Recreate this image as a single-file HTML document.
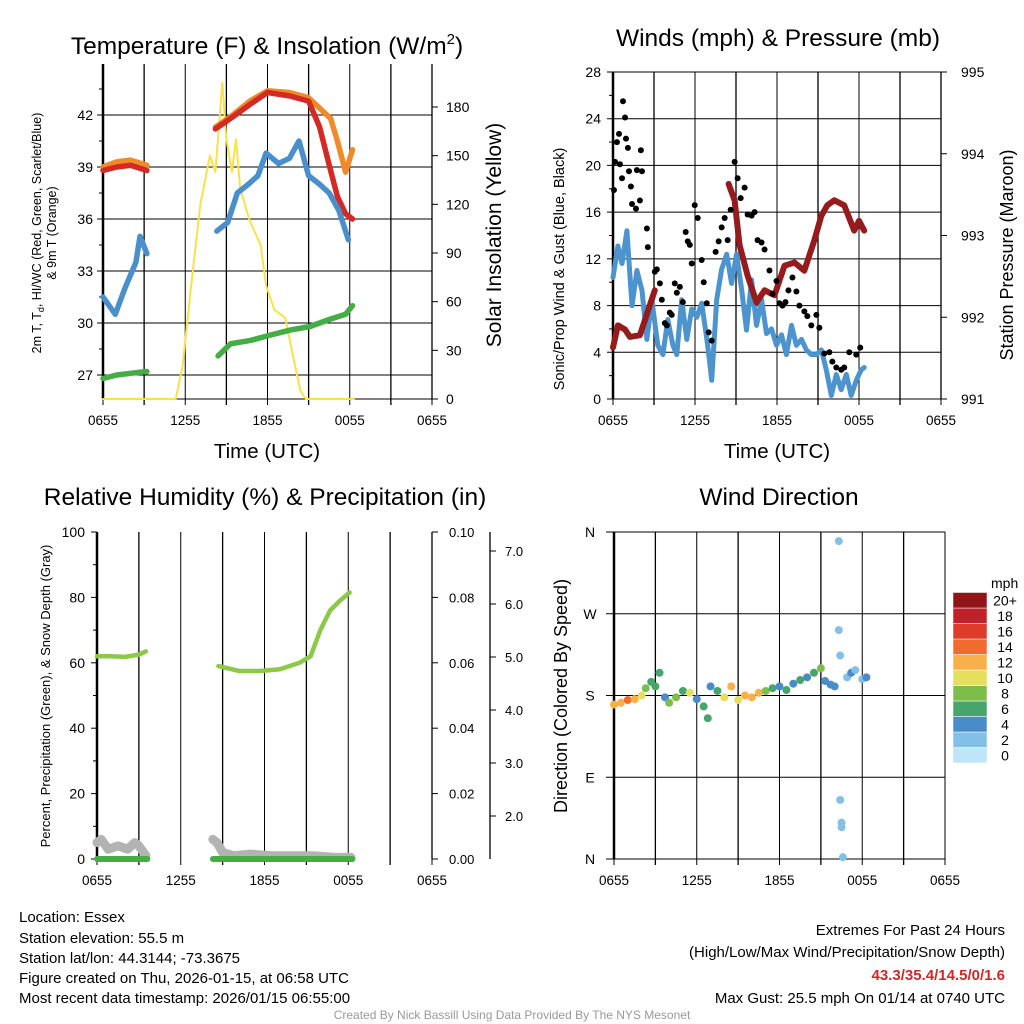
<!DOCTYPE html>
<html><head><meta charset="utf-8"><style>
body{margin:0;background:#fff;}
svg{display:block;font-family:"Liberation Sans",Arial,sans-serif;}
</style></head><body>
<svg id="c" width="1024" height="1024" viewBox="0 0 1024 1024" xmlns="http://www.w3.org/2000/svg">
<rect width="1024" height="1024" fill="#fff"/>
<g id="g1"></g>
<g id="g2"></g>
<g id="g3"></g>
<g id="g4"></g>
<g id="txt" font-size="15" fill="#000">
<text x="19" y="922">Location: Essex</text>
<text x="19" y="943">Station elevation: 55.5 m</text>
<text x="19" y="963">Station lat/lon: 44.3144; -73.3675</text>
<text x="19" y="983">Figure created on Thu, 2026-01-15, at 06:58 UTC</text>
<text x="19" y="1003">Most recent data timestamp: 2026/01/15 06:55:00</text>
<text x="1005" y="935" text-anchor="end">Extremes For Past 24 Hours</text>
<text x="1005" y="957" text-anchor="end">(High/Low/Max Wind/Precipitation/Snow Depth)</text>
<text x="1005" y="980" text-anchor="end" fill="#cc2a2a" font-weight="bold">43.3/35.4/14.5/0/1.6</text>
<text x="1005" y="1003" text-anchor="end">Max Gust: 25.5 mph On 01/14 at 0740 UTC</text>
<text x="512" y="1019" text-anchor="middle" font-size="12" fill="#999">Created By Nick Bassill Using Data Provided By The NYS Mesonet</text>
</g>
</svg>
<script>
// ---------- data ----------
const xTickLabels = ["0655","1255","1855","0055","0655"];
// Temperature panel (hours since 0655)
const redH1 = [0,1,2,3.2], redV1 = [38.8,39.0,39.1,38.8];
const orgV1 = [39.0,39.3,39.4,39.1];
const redH2 = [8.2,9.3,10.7,12.0,13.6,15.0,15.8,16.6,17.1,17.7,18.2];
const redV2 = [41.2,41.8,42.6,43.3,43.1,42.8,41.3,38.8,37.3,36.3,36.0];
const orgV2 = [41.3,41.9,42.8,43.4,43.3,43.0,42.4,41.8,40.5,38.7,40.0];
const blueH1 = [0,0.9,1.6,2.4,2.7,3.2], blueV1 = [31.5,30.5,32,33.5,35,34];
const blueH2 = [8.3,9.1,9.8,10.6,11.3,11.9,12.8,13.6,14.3,15.0,15.8,16.5,17.2,17.9];
const blueV2 = [35.3,35.8,37.5,38,38.5,39.8,39.2,39.5,40.5,38.5,38,37.5,36.5,34.8];
const grnH1 = [0,1,2,3.2], grnV1 = [26.8,27,27.1,27.2];
const grnH2 = [8.4,9.3,10.8,12.2,13.7,15.1,16.5,17.7,18.2], grnV2 = [28.1,28.8,29,29.3,29.6,29.8,30.2,30.5,31];
const solH = [0,5.3,5.8,6.3,7.1,7.8,8.2,8.7,9.0,9.4,9.7,10.0,10.7,11.5,11.9,12.5,13.3,13.9,14.4,14.8,18.3];
const solV = [0,0,20,60,120,150,140,195,160,140,160,130,110,95,70,55,50,25,5,0,0];
const tempTicks = [27,30,33,36,39,42];
const solTicks = [0,30,60,90,120,150,180];
// Wind panel
const sonicH = [0,.36,.66,1.02,1.39,1.75,2.12,2.48,2.84,3.28,3.65,4.01,4.38,4.67,5.03,5.4,5.76,6.13,6.49,6.93,7.22,7.59,7.95,8.32,8.68,9.04,9.41,9.77,10.14,10.5,10.87,11.23,11.6,11.96,12.33,12.69,13.06,13.42,13.79,14.15,14.51,14.88,15.24,15.61,15.97,16.34,16.7,17.07,17.43,17.8,18.16,18.38];
const sonicV = [10.4,13.1,11.6,14.4,8.0,11.0,9.3,5.1,8.5,4.6,3.8,6.8,4.6,3.8,8.5,5.1,7.7,7.0,8.2,4.6,1.6,8.5,11.1,12.4,9.9,12.4,9.4,5.9,10.2,6.3,8.5,5.6,6.0,4.6,5.5,3.8,6.3,4.6,5.1,4.2,3.8,3.8,4.2,2.5,0.3,2.1,0.8,2.1,0.3,1.6,2.5,2.7];
const gustH = [.07,.15,.29,.44,.51,.66,.73,.88,.95,1.09,1.17,1.31,1.39,1.68,1.75,1.97,2.04,2.12,2.48,2.55,3.06,3.21,3.43,3.57,3.79,3.94,4.16,4.3,4.52,4.67,4.89,5.11,5.32,5.47,5.62,5.76,5.98,6.2,6.49,6.64,6.86,7.0,7.22,7.51,7.73,7.95,8.17,8.39,8.61,8.9,9.12,9.34,9.63,9.85,10.14,10.36,10.58,10.87,11.09,11.45,11.67,11.96,12.18,12.4,12.62,12.84,13.13,13.42,13.64,14.0,14.22,14.51,14.88,15.1,15.46,15.83,16.05,16.34,16.7,16.92,17.29,17.8,18.09];
const gustV = [17.9,20.3,22.0,22.7,20.1,18.9,25.5,24.1,22.3,21.5,19.5,18.2,16.7,16.3,19.6,17.0,21.3,19.5,14.6,13.0,10.9,11.1,9.9,8.5,6.5,6.3,7.4,7.2,9.9,9.1,9.6,8.3,14.3,13.5,13.2,11.6,16.6,15.5,11.9,10.0,8.2,5.7,5.0,12.6,13.5,14.7,15.5,13.6,16.2,20.3,18.9,17.2,18.1,15.8,15.7,16.0,13.6,13.4,12.8,11.0,9.0,10.1,8.2,8.0,8.3,9.3,10.4,9.2,8.0,7.5,7.1,6.3,7.2,6.1,3.9,4.0,3.2,2.7,2.5,2.7,4.0,3.8,4.4];
const presH1 = [0,0.36,0.88,1.24,1.97,2.33,2.7,3.06];
const presV1 = [991.63,991.9,991.85,991.76,991.78,991.96,992.15,992.33];
const presH2 = [8.46,8.9,9.26,9.85,10.5,11.09,11.82,12.55,13.28,14.0,14.73,15.24,15.68,16.19,16.92,17.65,18.0,18.38];
const presV2 = [993.63,993.43,992.88,992.51,992.18,992.33,992.27,992.63,992.67,992.57,992.94,993.24,993.37,993.43,993.37,993.06,993.18,993.06];
const windTicks = [0,4,8,12,16,20,24,28];
const presTicks = [991,992,993,994,995];
// Humidity panel
const rhH1 = [0,1,2,3,3.5], rhV1 = [62,62,61.8,62.5,63.5];
const rhH2 = [8.7,10.2,11.7,13.1,14.5,15.3,16.0,16.7,17.4,18.1];
const rhV2 = [59,57.5,57.5,58,60,62,70,76,79,81.5];
const snowH1 = [0,0.3,0.8,1.5,2.2,2.7,3.0,3.5], snowV1 = [5,6,3,4,3,5,4,1];
const snowH2 = [8.3,8.6,9.0,9.8,11,12.5,14,15.5,17,18.2], snowV2 = [6,5,2,1,1.5,1,1,1,0.5,0.5];
const rhTicks = [0,20,40,60,80,100];
const pcpTicks = ["0.00","0.02","0.04","0.06","0.08","0.10"];
const snowTicks = [2,3,4,5,6,7];
// Wind direction panel
const dirH = [0,0.5,1,1.5,2,2.3,2.7,3,3.3,3.7,4,4.5,5,5.5,6,6.5,6.8,7,7.5,8,8.5,9,9.5,10,10.5,11,11.5,12,12.5,13,13.5,14,14.5,15,15.3,15.7,16,16.3,16.3,16.4,16.4,16.5,16.5,16.6,16.9,17.2,17.5,18,18.3];
const dirV = [170,172,175,176,180,188,195,190,205,178,172,178,185,183,176,168,155,190,185,178,190,175,180,178,183,185,188,190,186,193,197,200,205,210,196,192,190,350,252,224,65,40,35,2,200,205,208,198,200];
const dirS = [12,12,13,11,10,8,6,5,6,4,7,8,6,9,4,5,6,4,6,10,11,9,12,12,11,7,6,4,5,4,6,3,6,7,4,3,3,1,1,1,1,2,1,1,2,3,2,2,3];
const cbLabels = ["0","2","4","6","8","10","12","14","16","18","20+"];
const cbColors = ["#bfe6f8","#84bfe6","#4a8cc9","#46a56a","#7dbd4c","#e6df5d","#f8b048","#f26b2e","#df3b2b","#c3212a","#8f1518"];

// ---------- helpers ----------
const NS="http://www.w3.org/2000/svg";
function mk(parent,tag,attrs,txt){const e=document.createElementNS(NS,tag);for(const k in attrs)e.setAttribute(k,attrs[k]);if(txt!==undefined)e.textContent=txt;parent.appendChild(e);return e;}
function pathD(hs,vs,sx,sy){return hs.map((h,i)=>(i?"L":"M")+sx(h).toFixed(1)+","+sy(vs[i]).toFixed(1)).join("");}
function frame(g,x0,x1,y0,y1){
  for(let k=0;k<=8;k++){const x=x0+(x1-x0)*k/8;
    const l=mk(g,"line",{x1:x,x2:x,y1:y0,y2:y1+6,stroke:"#000","stroke-width":k%2?1.3:1});
    
    }
  xTickLabels.forEach((t,i)=>{const e=mk(g,"text",{x:x0+(x1-x0)*i/4,y:y1+26,"text-anchor":"middle","font-size":13.5},t);
    
    });
  mk(g,"line",{x1:x0,x2:x0,y1:y0,y2:y1,stroke:"#000","stroke-width":2.5});
}
function dots(g,hs,vs,sx,sy,r,col,name){hs.forEach((h,i)=>{const c=mk(g,"circle",{cx:sx(h),cy:sy(vs[i]),r:r,fill:typeof col==="function"?col(i):col});
  
  });}
function line(g,hs,vs,sx,sy,col,w,name){const p=mk(g,"path",{d:pathD(hs,vs,sx,sy),fill:"none",stroke:col,"stroke-width":w,"stroke-linejoin":"round","stroke-linecap":"round"});
  
  }

// ---------- panel 1 ----------
(function(){const g=document.getElementById("g1");const x0=103,x1=432,y0=64,y1=399;
 const sx=h=>x0+h*(x1-x0)/24, sy=v=>375-(v-27)*52/3, sy2=v=>399-v*292/180;
 tempTicks.forEach(t=>{const l=mk(g,"line",{x1:x0-6,x2:x1,y1:sy(t),y2:sy(t),stroke:"#000","stroke-width":1});
  
  
  mk(g,"line",{x1:x0-4,x2:x0,y1:sy(t+1.5),y2:sy(t+1.5),stroke:"#000"});
  const e=mk(g,"text",{x:x0-10,y:sy(t)+5,"text-anchor":"end","font-size":14},t);
  
  });
 frame(g,x0,x1,y0,y1);
 mk(g,"line",{x1:x1,x2:x1,y1:y0,y2:y1,stroke:"#000","stroke-width":1.3});
 mk(g,"line",{x1:x0,x2:x1,y1:y1,y2:y1,stroke:"#000","stroke-width":1});
 solTicks.forEach(t=>{mk(g,"line",{x1:x1,x2:x1+6,y1:sy2(t),y2:sy2(t),stroke:"#000"});
  const e=mk(g,"text",{x:x1+14,y:sy2(t)+5,"font-size":14},t);
  
  });
 line(g,solH,solV,sx,sy2,"#f7e24a",2,"insolation-line");
 line(g,redH1,orgV1,sx,sy,"#f08a2a",5.5,"9m-temp-line");line(g,redH2,orgV2,sx,sy,"#f08a2a",5.5,"9m-temp-line");
 line(g,redH1,redV1,sx,sy,"#d42a25",5.5,"2m-temp-line");line(g,redH2,redV2,sx,sy,"#d42a25",5.5,"2m-temp-line");
 line(g,blueH1,blueV1,sx,sy,"#4a8fcc",5.5,"dewpoint-line");line(g,blueH2,blueV2,sx,sy,"#4a8fcc",5.5,"dewpoint-line");
 line(g,grnH1,grnV1,sx,sy,"#45ad45",5.5,"hiwc-line");line(g,grnH2,grnV2,sx,sy,"#45ad45",5.5,"hiwc-line");
 mk(g,"text",{x:267,y:54,"text-anchor":"middle","font-size":24.5,}).innerHTML='Temperature (F) &amp; Insolation (W/m<tspan dy="-10" font-size="15">2</tspan><tspan dy="10">)</tspan>';
 mk(g,"text",{x:267,y:458,"text-anchor":"middle","font-size":20.5,},"Time (UTC)");
 mk(g,"text",{transform:"translate(41,233) rotate(-90)","text-anchor":"middle","font-size":12.5,}).innerHTML='2m T, T<tspan dy="3" font-size="9">d</tspan><tspan dy="-3">, HI/WC (Red, Green, Scarlet/Blue)</tspan>';
 mk(g,"text",{transform:"translate(56,233) rotate(-90)","text-anchor":"middle","font-size":12.5,},"& 9m T (Orange)");
 mk(g,"text",{transform:"translate(501,235) rotate(-90)","text-anchor":"middle","font-size":21,},"Solar Insolation (Yellow)");
})();

// ---------- panel 2 ----------
(function(){const g=document.getElementById("g2");const x0=613,x1=941,y0=72,y1=399;
 const sx=h=>x0+h*(x1-x0)/24, sy=v=>399-v*(y1-y0)/28, sy2=v=>399-(v-991)*(y1-y0)/4;
 windTicks.forEach(t=>{const l=mk(g,"line",{x1:x0-6,x2:x1,y1:sy(t),y2:sy(t),stroke:"#000","stroke-width":1});
  
  
  if(t<28)mk(g,"line",{x1:x0-4,x2:x0,y1:sy(t+2),y2:sy(t+2),stroke:"#000"});
  const e=mk(g,"text",{x:x0-12,y:sy(t)+5,"text-anchor":"end","font-size":14},t);
  
  });
 frame(g,x0,x1,y0,y1);
 mk(g,"line",{x1:x1,x2:x1,y1:y0,y2:y1,stroke:"#000","stroke-width":1.3});
 presTicks.forEach(t=>{mk(g,"line",{x1:x1,x2:x1+6,y1:sy2(t),y2:sy2(t),stroke:"#000"});
  const e=mk(g,"text",{x:x1+20,y:sy2(t)+5,"font-size":14},t);
  
  });
 line(g,sonicH,sonicV,sx,sy,"#4d94cf",5,"sonic-wind-line");
 line(g,presH1,presV1,sx,sy2,"#951b1c",6,"pressure-line");line(g,presH2,presV2,sx,sy2,"#951b1c",6,"pressure-line");
 dots(g,gustH,gustV,sx,sy,3,"#000","gust-point");
 mk(g,"text",{x:778,y:46,"text-anchor":"middle","font-size":24.5,},"Winds (mph) & Pressure (mb)");
 mk(g,"text",{x:777,y:458,"text-anchor":"middle","font-size":20.5,},"Time (UTC)");
 mk(g,"text",{transform:"translate(564,269) rotate(-90)","text-anchor":"middle","font-size":14.5,},"Sonic/Prop Wind & Gust (Blue, Black)");
 mk(g,"text",{transform:"translate(1013,255) rotate(-90)","text-anchor":"middle","font-size":18,},"Station Pressure (Maroon)");
})();

// ---------- panel 3 ----------
(function(){const g=document.getElementById("g3");const x0=97,x1=432,y0=532,y1=859;
 const sx=h=>x0+h*(x1-x0)/24, sy=v=>859-v*(y1-y0)/100, ss=v=>816-(v-2)*53;
 frame(g,x0,x1,y0,y1);
 mk(g,"line",{x1:x1,x2:x1,y1:y0,y2:y1,stroke:"#000","stroke-width":1.3});
 rhTicks.forEach((t,i)=>{mk(g,"line",{x1:x0-6,x2:x0,y1:sy(t),y2:sy(t),stroke:"#000"});
  if(t<100)mk(g,"line",{x1:x0-4,x2:x0,y1:sy(t+10),y2:sy(t+10),stroke:"#000"});
  const e=mk(g,"text",{x:x0-12,y:sy(t)+5,"text-anchor":"end","font-size":14},t);
  
  
  mk(g,"line",{x1:x1,x2:x1+6,y1:sy(t),y2:sy(t),stroke:"#000"});
  const f=mk(g,"text",{x:x1+17,y:sy(t)+5,"font-size":13},pcpTicks[i]);
  
  });
 mk(g,"line",{x1:490,x2:490,y1:532,y2:859,stroke:"#000","stroke-width":1.3,});
 snowTicks.forEach(t=>{mk(g,"line",{x1:490,x2:496,y1:ss(t),y2:ss(t),stroke:"#000"});
  const e=mk(g,"text",{x:505,y:ss(t)+5,"font-size":13},t.toFixed(1));
  
  });
 line(g,snowH1,snowV1,sx,sy,"#b3b3b3",9,"snow-depth-line");line(g,snowH2,snowV2,sx,sy,"#b3b3b3",9,"snow-depth-line");
 line(g,[0,3.6],[0,0],sx,sy,"#45ad45",6,"precip-line");line(g,[8.3,18.3],[0,0],sx,sy,"#45ad45",6,"precip-line");
 line(g,rhH1,rhV1,sx,sy,"#8cc84a",4.5,"rh-line");line(g,rhH2,rhV2,sx,sy,"#8cc84a",4.5,"rh-line");
 mk(g,"text",{x:265,y:505,"text-anchor":"middle","font-size":24.5,},"Relative Humidity (%) & Precipitation (in)");
 mk(g,"text",{transform:"translate(50,696) rotate(-90)","text-anchor":"middle","font-size":13,},"Percent, Precipitation (Green), & Snow Depth (Gray)");
})();

// ---------- panel 4 ----------
(function(){const g=document.getElementById("g4");const x0=614,x1=945,y0=532,y1=859;
 const sx=h=>x0+h*(x1-x0)/24, sy=v=>859-v*(y1-y0)/360;
 ["N","E","S","W","N"].forEach((t,i)=>{const y=sy(i*90);
  const l=mk(g,"line",{x1:x0-8,x2:x1,y1:y,y2:y,stroke:"#000","stroke-width":1});
  
  
  const e=mk(g,"text",{x:x0-24,y:y+5,"text-anchor":"middle","font-size":14},t);
  
  });
 frame(g,x0,x1,y0,y1);
 dots(g,dirH,dirV,sx,sy,4,i=>cbColors[Math.min(10,Math.round(dirS[i]/2))],"direction-point");
 mk(g,"text",{x:779,y:505,"text-anchor":"middle","font-size":24.5,},"Wind Direction");
 mk(g,"text",{transform:"translate(567,696) rotate(-90)","text-anchor":"middle","font-size":18,},"Direction (Colored By Speed)");
 const cb=mk(g,"g",{});
 mk(cb,"text",{x:991,y:588,"font-size":14,"text-anchor":"start",},"mph");
 cbColors.forEach((c,i)=>{const yb=763-(i+1)*15.5;
  const r=mk(cb,"rect",{x:953,y:yb,width:34,height:15.5,fill:c,stroke:"#fff","stroke-width":0.5});
  
  
  const e=mk(cb,"text",{x:1005,y:yb+13,"text-anchor":"middle","font-size":14},cbLabels[i]);
  
  });
})();
</script>
</body></html>
